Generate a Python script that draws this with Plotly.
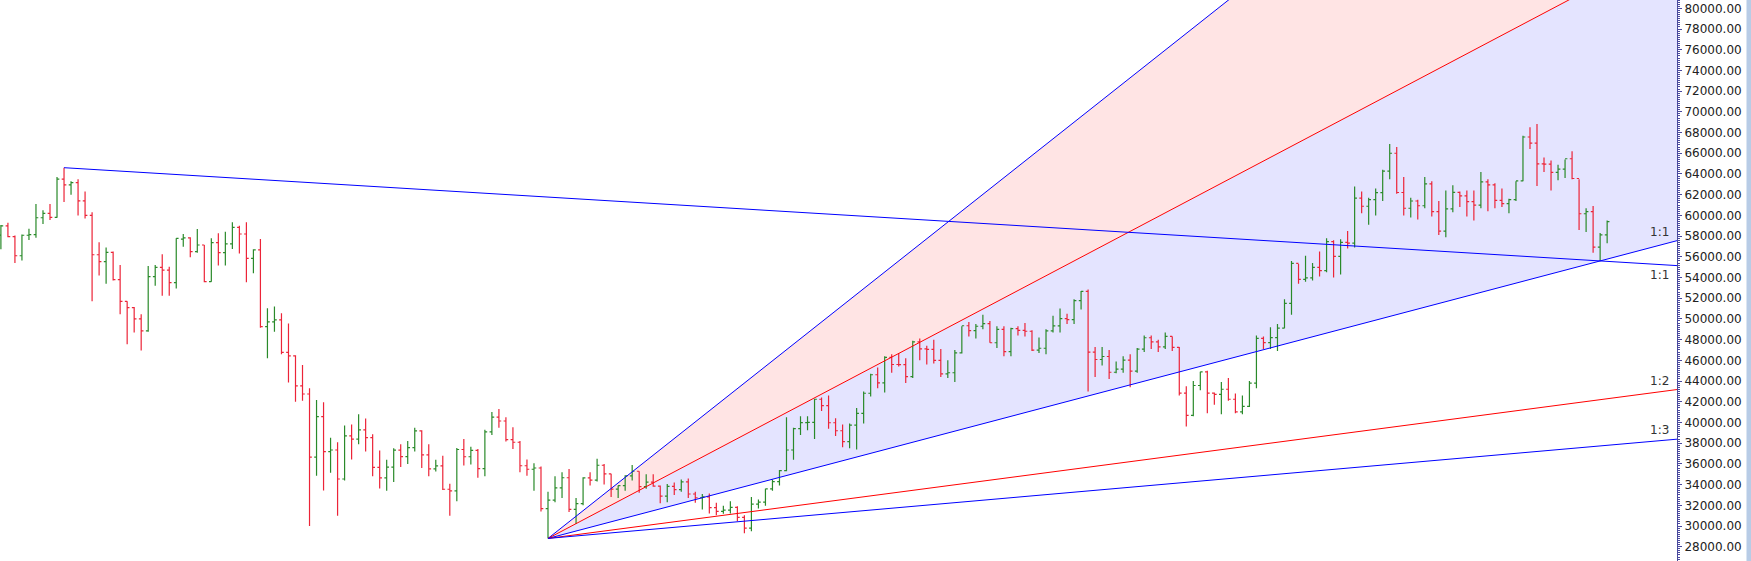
import plotly.graph_objects as go
import pandas as pd

# ---------------- data (daily bars) ----------------
dates = pd.date_range("2021-04-05", "2021-11-20", freq="D")

opens = [
    # Apr 5-30
    58100, 58980, 57950, 56100, 58080, 58150, 59770, 60200, 59800, 63500, 62950, 63160, 61400,
    60000, 56200, 55530, 56430, 53800, 51700, 51090, 50000, 48840, 54080, 54980, 54720, 53500,
    # May
    57700, 57830, 56500, 57140, 53600, 57370, 56400, 57240, 58850, 58200, 55850, 56660, 49250,
    49720, 49900, 46760, 46430, 43540, 42750, 36650, 40560, 37180, 37340, 34540, 38700, 38400,
    39290, 38530, 35660, 34650, 35680,
    # Jun
    37330, 36700, 37570, 39190, 36870, 35520, 35800, 33550, 33400, 37390, 36690, 37310, 35550,
    39100, 40520, 40140, 38350, 38090, 35820, 35480, 35600, 31680, 32500, 33680, 34660, 31600,
    32160, 34640, 34430, 35870,
    # Jul
    35040, 33570, 33900, 34840, 35290, 33800, 34230, 33860, 32880, 33820, 33510, 34260, 33090,
    32730, 32820, 31780, 31420, 31530, 31800, 30840, 29800, 32110, 32310, 33580, 34290, 35350,
    37340, 39410, 39990, 40010, 42240,
    # Aug
    41630, 39970, 39200, 38150, 39750, 40870, 42820, 44610, 43820, 46290, 45600, 45590, 44430,
    47790, 47100, 47050, 46000, 44700, 44800, 46720, 49340, 48870, 49290, 49550, 47700, 48990,
    46850, 49070, 48900, 48810, 46990,
    # Sep
    47170, 48850, 49330, 50030, 49940, 51770, 52660, 46800, 46080, 46370, 44850, 45160, 46020,
    44960, 47090, 48180, 47780, 47300, 48310, 47260, 42840, 40690, 43570, 44890, 42840, 42720,
    43210, 42240, 41030, 41560,
    # Oct
    43790, 48120, 47710, 48200, 49110, 51510, 55360, 53810, 53970, 54970, 54660, 57470, 56040,
    57400, 57320, 61670, 60880, 61530, 62200, 64280, 66000, 62210, 60690, 61390, 60930, 63040,
    60360, 58480, 60620, 62230, 61890,
    # Nov 1-20
    61320, 61000, 63230, 62940, 61450, 61130, 61530, 63330, 67570, 66970, 64980, 64950, 64160,
    64470, 65470, 63560, 60160, 60370, 56940, 58120,
]

highs = [
    59070, 59300, 58050, 58150, 58700, 61100, 60500, 61100, 63700, 64605, 63300, 63500, 62300,
    60300, 57400, 56900, 56500, 55200, 51700, 51150, 50450, 55100, 55200, 56250, 55050, 57780,
    58200, 57900, 58690, 57140, 57780, 58270, 58430, 59330, 59000, 59330, 56720, 57720, 51020,
    51190, 50540, 49570, 46500, 45550, 43300, 42170, 41950, 38530, 38080, 39700, 39800, 40800,
    40380, 38860, 37300, 36400, 37500,
    37900, 38200, 39480, 39240, 37900, 36400, 36790, 34070, 37530, 38400, 37650, 37440, 39300,
    41000, 41300, 40500, 39530, 38200, 36420, 36060, 35750, 33300, 34800, 35200, 35500, 32700,
    34700, 35200, 36500, 36000,
    35040, 33900, 34900, 35900, 35290, 35000, 35000, 33900, 34050, 34200, 34500, 34600, 33300,
    33100, 33150, 32250, 31950, 32400, 31900, 31050, 32800, 32550, 33600, 34500, 35400, 40500,
    39500, 40600, 40600, 42300, 42400,
    42600, 40400, 39800, 39900, 41400, 43000, 44700, 45300, 46400, 46600, 46700, 46200, 47900,
    48100, 47400, 48000, 47100, 46000, 47000, 49300, 49700, 49500, 50400, 49800, 49300, 49300,
    49150, 49300, 49600, 48900, 48200,
    49000, 50300, 51000, 50500, 51900, 52700, 52850, 47300, 47300, 47000, 45900, 46400, 46600,
    47200, 48400, 48400, 48000, 48700, 48300, 47300, 43500, 44000, 44900, 45000, 42900, 43900,
    44300, 42800, 42600, 44000,
    48400, 48300, 49200, 49500, 51900, 55600, 55300, 56100, 55400, 56500, 57800, 57600, 57700,
    58500, 62800, 62300, 61700, 62600, 64400, 66900, 66600, 63700, 61700, 61500, 63700, 63300,
    61400, 62400, 62900, 62300, 62400,
    62400, 64200, 63500, 63100, 62600, 61600, 63300, 67700, 68500, 68825, 65600, 65300, 64900,
    65400, 66200, 63500, 60700, 60900, 58300, 59500,
]

lows = [
    56720, 57900, 55400, 55650, 57620, 57850, 59170, 59550, 59780, 61300, 62000, 60000, 59700,
    51700, 54200, 53400, 53700, 50450, 47550, 48700, 46940, 48770, 53210, 52250, 52250, 52950,
    56980, 55950, 56400, 53530, 53600, 55150, 55150, 56760, 56330, 53530, 54400, 49150, 46200,
    48770, 46600, 43850, 42010, 42100, 30000, 34860, 33420, 35150, 31000, 34400, 36420, 37900,
    37200, 34800, 33630, 33400, 34250,
    35700, 35980, 37200, 35600, 34800, 35260, 33480, 31000, 32400, 35840, 35950, 34650, 34800,
    38800, 39500, 38150, 37430, 35200, 34850, 33400, 31400, 28800, 32300, 32700, 31350, 30200,
    32000, 33900, 34300, 34000,
    32800, 32700, 33400, 34400, 33200, 33600, 33800, 32200, 32300, 33000, 33300, 32700, 32250,
    31600, 31200, 31050, 31180, 31200, 30450, 29300, 29500, 31700, 31950, 33400, 33900, 35300,
    36400, 38800, 39250, 38400, 41100,
    39400, 38700, 37600, 37500, 37400, 39900, 42500, 43300, 42900, 44800, 45400, 43800, 44300,
    46000, 45600, 45700, 44400, 44300, 43900, 46650, 48300, 48100, 49000, 47700, 47200, 46400,
    46400, 48400, 48300, 46900, 46700,
    46600, 48700, 48700, 49500, 49500, 50900, 43000, 44400, 45500, 44200, 44750, 44800, 43400,
    44800, 46800, 47100, 46800, 47100, 46900, 42600, 39600, 40600, 43100, 40900, 41700, 40800,
    42100, 40900, 40800, 41500,
    43300, 47100, 47100, 46900, 49100, 50400, 53400, 53600, 53700, 54100, 54500, 54000, 54300,
    56800, 56900, 60200, 59100, 60000, 61400, 63500, 62100, 60000, 59800, 59600, 60700, 59900,
    58100, 57900, 60300, 60800, 59900,
    59500, 60700, 60400, 60700, 60800, 60200, 61400, 63300, 66400, 62840, 64200, 62400, 63400,
    63600, 63500, 58600, 58400, 56400, 55600, 57300,
]

closes = [
    58980, 57950, 56100, 58080, 58150, 59770, 60200, 59800, 63500, 62950, 63160, 61400, 60000,
    56200, 55530, 56430, 53800, 51700, 51090, 50000, 48840, 54080, 54980, 54720, 53500, 57780,
    57830, 56500, 57140, 53600, 57370, 56400, 57240, 58850, 58200, 55850, 56660, 49250, 49720,
    49900, 46760, 46430, 43540, 42750, 36650, 40560, 37180, 37340, 34540, 38700, 38400, 39290,
    38530, 35660, 34650, 35680, 37330,
    36700, 37570, 39190, 36870, 35520, 35800, 33550, 33400, 37390, 36690, 37310, 35550, 39100,
    40520, 40140, 38350, 38090, 35820, 35480, 35600, 31680, 32500, 33680, 34660, 31600, 32160,
    34640, 34430, 35870, 35040,
    33570, 33900, 34840, 35290, 33800, 34230, 33860, 32880, 33820, 33510, 34260, 33090, 32730,
    32820, 31780, 31420, 31530, 31800, 30840, 29800, 32110, 32310, 33580, 34290, 35350, 37340,
    39410, 39990, 40010, 42240, 41630,
    39970, 39200, 38150, 39750, 40870, 42820, 44610, 43820, 46290, 45600, 45590, 44430, 47790,
    47100, 47050, 46000, 44700, 44800, 46720, 49340, 48870, 49290, 49550, 47700, 48990, 46850,
    49070, 48900, 48810, 46990, 47170,
    48850, 49330, 50030, 49940, 51770, 52660, 46800, 46080, 46370, 44850, 45160, 46020, 44960,
    47090, 48180, 47780, 47300, 48310, 47260, 42840, 40690, 43570, 44890, 42840, 42720, 43210,
    42240, 41030, 41560, 43790,
    48120, 47710, 48200, 49110, 51510, 55360, 53810, 53970, 54970, 54660, 57470, 56040, 57400,
    57320, 61670, 60880, 61530, 62200, 64280, 66000, 62210, 60690, 61390, 60930, 63040, 60360,
    58480, 60620, 62230, 61890, 61320,
    61000, 63230, 62940, 61450, 61130, 61530, 63330, 67570, 66970, 64980, 64950, 64160, 64470,
    65470, 63560, 60160, 60370, 56940, 58120, 59400,
]

# Gann fan: origin at the 2021-06-22 low, 1:1 scale through the 2021-11-19 low
fan_ratios = [3, 2, 1, 1 / 2, 1 / 3]
fan_labels = ["", "", "1:1", "1:2", "1:3"]
fan_colors = ["#0000ff", "#ff0000", "#0000ff", "#ff0000", "#0000ff"]
fan_origin_date = "2021-06-22"
fan_anchor_date = "2021-11-19"
# downward 1:1 line from the 2021-04-14 high
down_start_date = "2021-04-14"

# visible window
x_window = ["2021-04-04 20:55", "2021-11-29 23:02"]
y_window = [26620, 80802]

GREEN = "#2a8a2a"
RED = "#ec2438"
AXIS = "#4a4a9e"
PINK = "rgb(255,228,228)"
LAVENDER = "rgb(228,228,255)"

# ---------------- derived ----------------
n = len(dates)
assert len(opens) == n and len(highs) == n and len(lows) == n and len(closes) == n

day = pd.Timedelta(days=1)
t0 = pd.Timestamp(fan_origin_date)
t1 = pd.Timestamp(fan_anchor_date)
p0 = lows[dates.get_loc(t0)]
p1 = lows[dates.get_loc(t1)]
unit = (p1 - p0) / ((t1 - t0) / day)
t_ext = pd.Timestamp("2021-12-31")
t_edge = pd.Timestamp(x_window[1])


def fan_y(r, t):
    return p0 + r * unit * ((t - t0) / day)


td = pd.Timestamp(down_start_date)
pd0 = highs[dates.get_loc(td)]
down_slope = (p1 - pd0) / ((t1 - td) / day)


def down_y(t):
    return pd0 + down_slope * ((t - td) / day)


def ms(t):
    return t.value // 10**6


fig = go.Figure()

# fills between 3:1 / 2:1 and 2:1 / 1:1, drawn beneath the bars
for ra, rb, col in [(3, 2, PINK), (2, 1, LAVENDER)]:
    path = (f"M {ms(t0)},{p0} L {ms(t_ext)},{fan_y(ra, t_ext)} "
            f"L {ms(t_ext)},{fan_y(rb, t_ext)} Z")
    fig.add_shape(type="path", xref="x", yref="y", path=path,
                  fillcolor=col, line=dict(width=0), layer="below")

fig.add_trace(go.Ohlc(
    x=dates, open=opens, high=highs, low=lows, close=closes,
    increasing=dict(line=dict(color=GREEN, width=1.2)),
    decreasing=dict(line=dict(color=RED, width=1.2)),
    tickwidth=0.33, showlegend=False, name="BTC"))

for r, c in zip(fan_ratios, fan_colors):
    fig.add_trace(go.Scatter(
        x=[t0, t_ext], y=[p0, fan_y(r, t_ext)], mode="lines",
        line=dict(color=c, width=1), hoverinfo="skip", showlegend=False))

fig.add_trace(go.Scatter(
    x=[td, t_ext], y=[pd0, down_y(t_ext)], mode="lines",
    line=dict(color="#0000ff", width=1), hoverinfo="skip", showlegend=False))

LABEL_FONT = dict(family="DejaVu Sans", size=12, color="#333333")
for r, lab in zip(fan_ratios, fan_labels):
    if lab:
        fig.add_annotation(x=1, xref="paper", xanchor="right", xshift=-6,
                           y=fan_y(r, t_edge), yref="y", yanchor="middle", yshift=9,
                           text=lab, showarrow=False, font=LABEL_FONT)
fig.add_annotation(x=1, xref="paper", xanchor="right", xshift=-6,
                   y=down_y(t_edge), yref="y", yanchor="middle", yshift=-9,
                   text="1:1", showarrow=False, font=LABEL_FONT)

W, H = 1751, 561
PLOT_R = 1677
fig.add_shape(type="rect", xref="paper", yref="paper",
              x0=1746.5 / PLOT_R, x1=1.06, y0=0, y1=1,
              fillcolor="#b8cce6", line=dict(width=0), layer="above")

fig.update_layout(
    width=W, height=H,
    margin=dict(l=0, r=W - PLOT_R, t=0, b=0, pad=0),
    paper_bgcolor="white", plot_bgcolor="white",
    showlegend=False,
    xaxis=dict(type="date", range=x_window, visible=False, showgrid=False,
               rangeslider=dict(visible=False)),
    yaxis=dict(side="right", range=y_window, tick0=0, dtick=2000, tickformat=".2f",
               showgrid=False, zeroline=False, showline=True, linecolor=AXIS, linewidth=1,
               ticks="outside", ticklen=4, tickcolor=AXIS, tickwidth=1,
               tickfont=dict(family="DejaVu Sans", size=12, color="#222222"),
               minor=dict(dtick=200, ticks="outside", ticklen=2, tickcolor=AXIS,
                          showgrid=False)),
)

fig.write_html("out.html", config={"displayModeBar": False},
               post_script="document.body.style.margin='0';document.body.style.overflow='hidden';")
